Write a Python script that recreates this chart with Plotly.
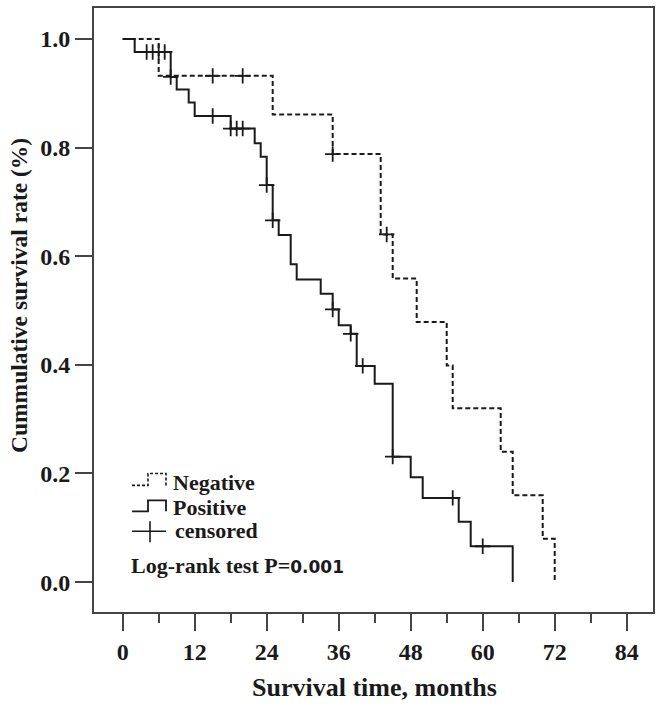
import plotly.graph_objects as go

# ---- data ----
neg_time = [0, 6, 25, 35, 43, 45, 49, 54, 55, 63, 65, 70, 72]
neg_surv = [1.0, 0.932, 0.861, 0.788, 0.640, 0.559, 0.479, 0.399, 0.320, 0.240, 0.160, 0.080, 0.0]
neg_cens_time = [15, 20, 35, 44]
neg_cens_surv = [0.932, 0.932, 0.788, 0.640]

pos_time = [0, 2, 8, 9, 11, 12, 18, 22, 23, 24, 25, 26, 28, 29, 33, 35, 36, 38, 39, 42, 45, 48, 50, 56, 58, 65]
pos_surv = [1.0, 0.976, 0.930, 0.907, 0.883, 0.858, 0.835, 0.808, 0.783, 0.731, 0.666, 0.639, 0.585, 0.557,
            0.531, 0.502, 0.473, 0.457, 0.398, 0.365, 0.231, 0.193, 0.155, 0.111, 0.066, 0.0]
pos_cens_time = [4, 5, 6, 7, 8, 15, 18, 19, 20, 24, 25, 35, 38, 40, 45, 55, 60]
pos_cens_surv = [0.976, 0.976, 0.976, 0.976, 0.930, 0.858, 0.835, 0.835, 0.835, 0.731, 0.666,
                 0.502, 0.457, 0.398, 0.231, 0.155, 0.066]

x_ticks = [0, 12, 24, 36, 48, 60, 72, 84]
y_ticks = [0.0, 0.2, 0.4, 0.6, 0.8, 1.0]
y_ticklabels = ["0.0", "0.2", "0.4", "0.6", "0.8", "1.0"]

legend_labels = ["Negative", "Positive", "censored"]
x_title = "Survival time, months"
y_title = "Cummulative survival rate (%)"
pvalue_label = "Log-rank test P="
pvalue = "0.001"

# ---- figure geometry ----
W, H = 662, 707
ML, MR, MT, MB = 94, 9, 6, 95
PW, PH = W - ML - MR, H - MT - MB


def px(xp, yp):
    """pixel position -> paper coordinates (for decorations only)"""
    return (xp - ML) / PW, (H - MB - yp) / PH


INK = "#1a1a1a"
SERIF = "Liberation Serif"

fig = go.Figure()

fig.add_trace(go.Scatter(x=neg_time, y=neg_surv, mode="lines", line_shape="hv",
                         line=dict(color=INK, width=2, dash="5px,3px"), showlegend=False, hoverinfo="skip"))
fig.add_trace(go.Scatter(x=pos_time, y=pos_surv, mode="lines", line_shape="hv",
                         line=dict(color=INK, width=2), showlegend=False, hoverinfo="skip"))
fig.add_trace(go.Scatter(x=neg_cens_time + pos_cens_time, y=neg_cens_surv + pos_cens_surv, mode="markers",
                         marker=dict(symbol="cross-thin", size=11, line=dict(color=INK, width=1.8)),
                         showlegend=False, hoverinfo="skip"))

# ---- custom legend (decorations in paper coordinates) ----
shapes = []


def path_px(points):
    pts = [px(*p) for p in points]
    return "M " + " L ".join(f"{a:.5f},{b:.5f}" for a, b in pts)


shapes.append(dict(type="path", xref="paper", yref="paper",
                   path=path_px([(132, 485), (148, 485), (148, 473), (166, 473), (166, 485)]),
                   line=dict(color=INK, width=1.6, dash="3px,2px")))
shapes.append(dict(type="path", xref="paper", yref="paper",
                   path=path_px([(132, 511), (148, 511), (148, 500), (166, 500), (166, 511)]),
                   line=dict(color=INK, width=1.8)))
shapes.append(dict(type="path", xref="paper", yref="paper",
                   path=path_px([(132, 531), (166, 531)]), line=dict(color=INK, width=1.6)))
shapes.append(dict(type="path", xref="paper", yref="paper",
                   path=path_px([(150, 521), (150, 542)]), line=dict(color=INK, width=1.6)))

annotations = []
for (yy, lab, xx) in [(482, legend_labels[0], 171), (507, legend_labels[1], 171), (530, legend_labels[2], 173)]:
    ax, ay = px(xx, yy)
    annotations.append(dict(x=ax, y=ay, xref="paper", yref="paper", text=lab, showarrow=False,
                            xanchor="left", yanchor="middle",
                            font=dict(family=SERIF, size=22, color=INK, weight="bold")))
ax, ay = px(129, 565)
annotations.append(dict(x=ax, y=ay, xref="paper", yref="paper",
                        text=f"{pvalue_label}<span style='font-family:DejaVu Sans;font-size:17px'>{pvalue}</span>",
                        showarrow=False, xanchor="left", yanchor="middle",
                        font=dict(family=SERIF, size=22, color=INK, weight="bold")))

# axis titles
ax, ay = px(374, 688)
annotations.append(dict(x=ax, y=ay, xref="paper", yref="paper", text=x_title, showarrow=False,
                        xanchor="center", yanchor="middle",
                        font=dict(family=SERIF, size=26, color=INK, weight="bold")))
ax, ay = px(19, 295)
annotations.append(dict(x=ax, y=ay, xref="paper", yref="paper", text=y_title, showarrow=False,
                        textangle=-90, xanchor="center", yanchor="middle",
                        font=dict(family=SERIF, size=23.5, color=INK, weight="bold")))

AXC = "#444444"
fig.update_layout(
    width=W, height=H,
    margin=dict(l=ML, r=MR, t=MT, b=MB),
    plot_bgcolor="white", paper_bgcolor="white",
    shapes=shapes, annotations=annotations,
    xaxis=dict(range=[-4.78, 88.38], tickvals=x_ticks, ticks="outside", ticklen=17, tickwidth=2,
               tickcolor=AXC, showline=True, mirror=True, linecolor=AXC, linewidth=2,
               showgrid=False, zeroline=False,
               minor=dict(dtick=6, tick0=0, ticks="outside", ticklen=9, tickwidth=2, tickcolor=AXC),
               tickfont=dict(family=SERIF, size=24, color=INK, weight="bold")),
    yaxis=dict(range=[-0.055, 1.0569], tickvals=y_ticks, ticktext=y_ticklabels, ticks="outside",
               ticklen=17, tickwidth=2, tickcolor=AXC, showline=True, mirror=True, linecolor=AXC,
               linewidth=2, showgrid=False, zeroline=False,
               tickfont=dict(family=SERIF, size=24, color=INK, weight="bold")),
)

# remove the browser's default page margin so the figure sits at the window's corner
fig.write_html("out.html", config={"displayModeBar": False},
               post_script="document.body.style.margin='0px';")
